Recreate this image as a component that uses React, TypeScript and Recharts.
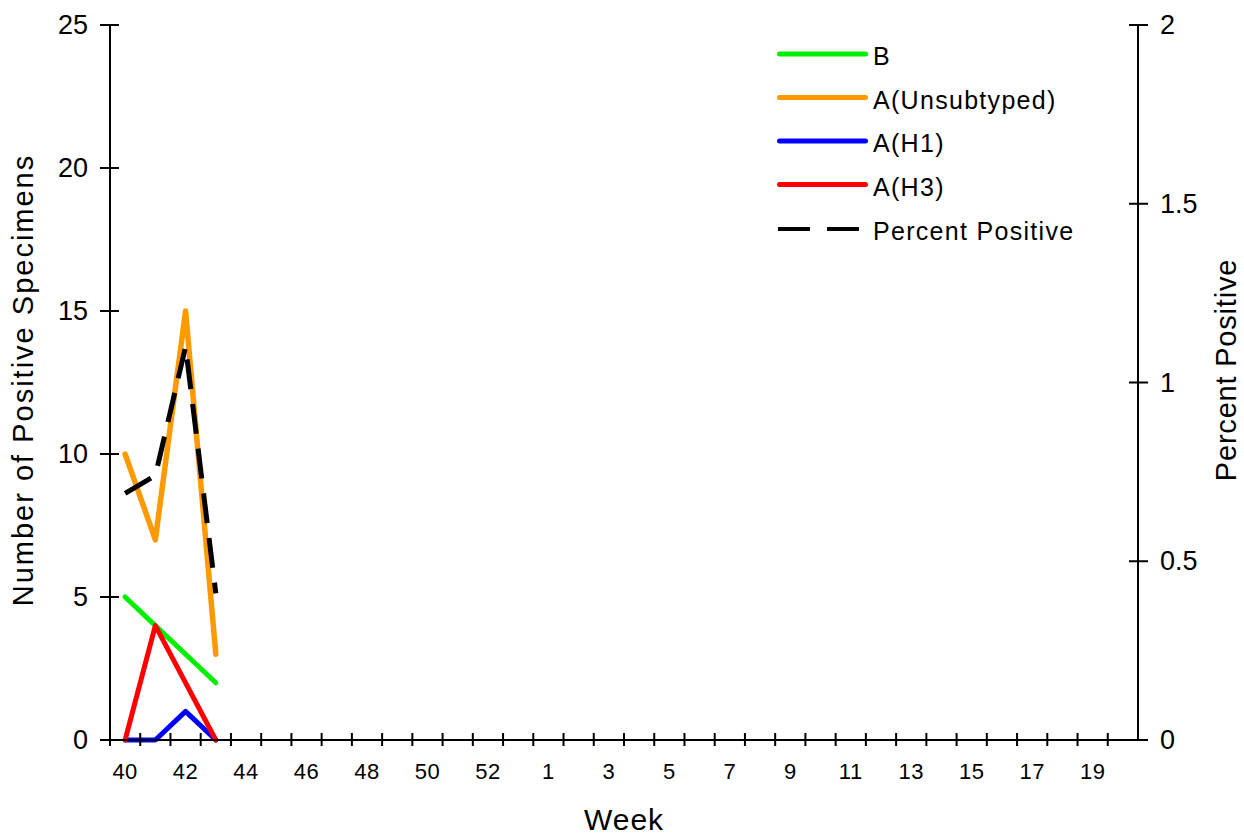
import React from 'react';
import { ComposedChart, Line, XAxis, YAxis, Legend } from 'recharts';

const weeks = ['40','41','42','43','44','45','46','47','48','49','50','51','52','53','1','2','3','4','5','6','7','8','9','10','11','12','13','14','15','16','17','18','19','20'];
const bCounts = [5, 4, 3, 2];
const unsubtypedCounts = [10, 7, 15, 3];
const h1Counts = [0, 0, 1, 0];
const h3Counts = [0, 4, 2, 0];
const percentPositive = [0.69, 0.74, 1.1, 0.41];
const leftTicks = [0, 5, 10, 15, 20, 25];
const rightTicks = [0, 0.5, 1, 1.5, 2];

const series = [
  { key: 'B', name: 'B', color: '#00ee00', dashed: false },
  { key: 'unsub', name: 'A(Unsubtyped)', color: '#ff9900', dashed: false },
  { key: 'h1', name: 'A(H1)', color: '#0000ff', dashed: false },
  { key: 'h3', name: 'A(H3)', color: '#ff0000', dashed: false },
  { key: 'pct', name: 'Percent Positive', color: '#000000', dashed: true },
];

const data = weeks.map((w, i) => ({
  week: w,
  B: bCounts[i] ?? null,
  unsub: unsubtypedCounts[i] ?? null,
  h1: h1Counts[i] ?? null,
  h3: h3Counts[i] ?? null,
  pct: percentPositive[i] ?? null,
}));

const FONT = '"Liberation Sans", Arial, sans-serif';
const W = 1244;
const H = 836;
const LEFT_W = 110;
const RIGHT_W = 106;
const BAND = (W - LEFT_W - RIGHT_W) / weeks.length;

const LeftTick = (props: any) => {
  const { x, y, payload } = props;
  return (
    <g>
      <line x1={x - 10} x2={x + 9} y1={y} y2={y} stroke="#000" strokeWidth={2} />
      <text x={x - 22} y={y} dy={9} textAnchor="end" fontSize={27} fontFamily={FONT} fill="#000">
        {payload.value}
      </text>
    </g>
  );
};

const RightTick = (props: any) => {
  const { x, y, payload } = props;
  return (
    <g>
      <line x1={x - 9} x2={x + 10} y1={y} y2={y} stroke="#000" strokeWidth={2} />
      <text x={x + 22} y={y} dy={9} textAnchor="start" fontSize={27} fontFamily={FONT} fill="#000">
        {payload.value}
      </text>
    </g>
  );
};

const BottomTick = (props: any) => {
  const { x, y, payload, index } = props;
  const bx = x - BAND / 2;
  return (
    <g>
      <line x1={bx} x2={bx} y1={y - 7} y2={y + 6} stroke="#000" strokeWidth={2} />
      {index % 2 === 0 ? (
        <text x={x} y={y + 39} textAnchor="middle" fontSize={22} letterSpacing={0.5} fontFamily={FONT} fill="#000">
          {payload.value}
        </text>
      ) : null}
    </g>
  );
};

const LegendContent = () => {
  const rows = [54, 97.5, 141, 184.5, 229];
  return (
    <svg width={W} height={300} style={{ position: 'absolute', left: 0, top: 0 }}>
      {series.map((s, i) => (
        <g key={s.key}>
          {s.dashed ? (
            <line x1={778} x2={859} y1={rows[i]} y2={rows[i]} stroke={s.color} strokeWidth={4} strokeDasharray="32 17" />
          ) : (
            <line x1={779.5} x2={865.5} y1={rows[i]} y2={rows[i]} stroke={s.color} strokeWidth={5} strokeLinecap="round" />
          )}
          <text x={873} y={rows[i] + 11} fontSize={25} letterSpacing={1.3} fontFamily={FONT} fill="#000">
            {s.name}
          </text>
        </g>
      ))}
    </svg>
  );
};

export default function App() {
  return (
    <div style={{ position: 'absolute', left: 0, top: 0, width: W, height: H, background: '#fff' }}>
      <ComposedChart width={W} height={H} data={data} margin={{ top: 25, right: 0, left: 0, bottom: 0 }}>
        <XAxis
          dataKey="week"
          scale="band"
          interval={0}
          height={96}
          tickSize={0}
          tickMargin={0}
          tickLine={false}
          axisLine={{ stroke: '#000', strokeWidth: 2 }}
          tick={<BottomTick />}
        />
        <YAxis
          yAxisId="left"
          orientation="left"
          width={LEFT_W}
          domain={[0, 25]}
          ticks={leftTicks}
          interval={0}
          tickSize={0}
          tickMargin={0}
          tickLine={false}
          axisLine={{ stroke: '#000', strokeWidth: 2 }}
          tick={<LeftTick />}
        />
        <YAxis
          yAxisId="right"
          orientation="right"
          width={RIGHT_W}
          domain={[0, 2]}
          ticks={rightTicks}
          interval={0}
          tickSize={0}
          tickMargin={0}
          tickLine={false}
          axisLine={{ stroke: '#000', strokeWidth: 2 }}
          tick={<RightTick />}
        />
        <Legend
          layout="vertical"
          align="center"
          verticalAlign="middle"
          content={<LegendContent />}
          wrapperStyle={{ position: 'absolute', left: 0, top: 0, width: W, height: 300, pointerEvents: 'none' }}
        />
        {series.map((s) => (
          <Line
            key={s.key}
            yAxisId={s.key === 'pct' ? 'right' : 'left'}
            dataKey={s.key}
            name={s.name}
            type="linear"
            stroke={s.color}
            strokeWidth={s.key === 'unsub' ? 5.5 : 5}
            strokeDasharray={s.dashed ? '30 15' : undefined}
            strokeLinecap={s.dashed ? 'butt' : 'round'}
            strokeLinejoin="round"
            dot={false}
            activeDot={false}
            isAnimationActive={false}
          />
        ))}
        <text x={33} y={380} transform="rotate(-90 33 380)" textAnchor="middle" fontSize={29} letterSpacing={2} fontFamily={FONT} fill="#000">
          Number of Positive Specimens
        </text>
        <text x={1236} y={370} transform="rotate(-90 1236 370)" textAnchor="middle" fontSize={29} letterSpacing={0.8} fontFamily={FONT} fill="#000">
          Percent Positive
        </text>
        <text x={624} y={830} textAnchor="middle" fontSize={30} letterSpacing={1} fontFamily={FONT} fill="#000">
          Week
        </text>
      </ComposedChart>
    </div>
  );
}
